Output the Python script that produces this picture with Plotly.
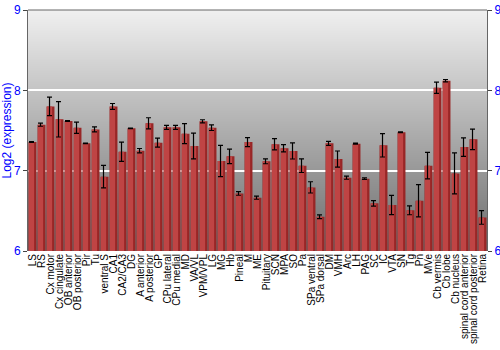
import base64
import struct
import zlib

import plotly.graph_objects as go

categories = ["LS", "RS", "Cx motor", "Cx cingulate", "OB anterior", "OB posterior", "Pir", "Tu",
              "ventral S", "CA1", "CA2/CA3", "DG", "A anterior", "A posterior", "GP", "CPu lateral",
              "CPu medial", "MD", "VA/VL", "VPM/VPL", "LG", "MG", "Hb", "Pineal", "M", "ME",
              "Pituitary", "SCN", "MPA", "SO", "Pa", "SPa ventral", "SPa dorsal", "DM", "VMH", "Arc",
              "LH", "PAG", "SC", "IC", "VTA", "SN", "Tg", "Pn", "MVe", "Cb vermis", "Cb lobe",
              "Cb nucleus", "spinal cord anterior", "spinal cord posterior", "Retina"]

values = [7.356, 7.573, 7.80, 7.639, 7.618, 7.535, 7.34, 7.514,
          6.925, 7.80, 7.236, 7.527, 7.249, 7.589, 7.348, 7.539,
          7.539, 7.461, 7.307, 7.614, 7.535, 7.12, 7.178, 6.717, 7.356, 6.664,
          7.116, 7.328, 7.278, 7.245, 7.062, 6.792, 6.427, 7.34, 7.145, 6.913,
          7.336, 6.90, 6.593, 7.315, 6.572, 7.477, 6.506, 6.626, 7.062, 8.033, 8.12,
          6.966, 7.294, 7.39, 6.418]

errors = [0.005, 0.02, 0.115, 0.22, 0.005, 0.07, 0.004, 0.03,
          0.14, 0.036, 0.12, 0.004, 0.027, 0.07, 0.056, 0.025,
          0.025, 0.125, 0.16, 0.02, 0.035, 0.195, 0.09, 0.023, 0.056, 0.02,
          0.03, 0.07, 0.045, 0.1, 0.085, 0.07, 0.023, 0.025, 0.1, 0.02,
          0.006, 0.01, 0.035, 0.145, 0.12, 0.005, 0.055, 0.2, 0.165, 0.07, 0.015,
          0.255, 0.115, 0.127, 0.085]

y_ticks = [6, 7, 8, 9]
y_range = [6, 9]


def gradient_png(top, bottom, h=241):
    rows = b""
    for i in range(h):
        g = int(round(top + (bottom - top) * i / (h - 1)))
        rows += b"\x00" + bytes([g, g])
    def chunk(tag, data):
        c = struct.pack(">I", len(data)) + tag + data
        return c + struct.pack(">I", zlib.crc32(tag + data) & 0xffffffff)
    png = b"\x89PNG\r\n\x1a\n"
    png += chunk(b"IHDR", struct.pack(">IIBBBBB", 2, h, 8, 0, 0, 0, 0))
    png += chunk(b"IDAT", zlib.compress(rows))
    png += chunk(b"IEND", b"")
    return "data:image/png;base64," + base64.b64encode(png).decode()


fig = go.Figure()

fig.add_trace(go.Bar(
    x=categories, y=values,
    marker=dict(color="#982626", line=dict(width=0)),
    width=0.88,
    showlegend=False, hoverinfo="skip",
))
# lighter highlight on left part of each bar
fig.add_trace(go.Bar(
    x=categories, y=values,
    marker=dict(color="#bf4444", line=dict(width=0)),
    width=0.58, offset=-0.40,
    showlegend=False, hoverinfo="skip",
    error_y=dict(type="data", array=errors, color="black", thickness=1.2, width=2.5),
))
# dummy trace for right axis
fig.add_trace(go.Scatter(x=[categories[0]], y=[6], yaxis="y2", mode="markers",
                         marker=dict(opacity=0), showlegend=False, hoverinfo="skip"))

fig.update_layout(
    width=500, height=350,
    margin=dict(l=28, r=13, t=10, b=99, autoexpand=False),
    paper_bgcolor="white",
    plot_bgcolor="rgba(0,0,0,0)",
    barmode="overlay",
    images=[dict(source=gradient_png(240, 108), xref="paper", yref="paper",
                 x=0, y=1, sizex=1, sizey=1, sizing="stretch",
                 xanchor="left", yanchor="top", layer="below")],
    font=dict(family="Liberation Sans, Arial, sans-serif", size=10, color="black"),
    xaxis=dict(
        tickmode="array", tickvals=categories, ticktext=categories,
        tickangle=-90, tickfont=dict(size=10, color="black"),
        showgrid=False, showline=False, ticks="", automargin=False,
        range=[-0.5, len(categories) - 0.5],
    ),
    yaxis=dict(
        range=y_range, tickvals=y_ticks, ticks="outside", ticklen=4, tickcolor="#444",
        tickfont=dict(size=12, color="blue"), automargin=False,
        title=dict(text="Log2 (expression)", font=dict(size=12, color="blue"), standoff=6),
        showgrid=True, gridcolor="white", gridwidth=1.5,
        showline=True, linecolor="#666", linewidth=1, mirror=False, zeroline=False,
    ),
    yaxis2=dict(
        range=y_range, tickvals=y_ticks, overlaying="y", side="right",
        ticks="outside", ticklen=4, tickcolor="#444", automargin=False,
        tickfont=dict(size=12, color="blue"),
        showgrid=False, showline=True, linecolor="#666", linewidth=1, zeroline=False,
    ),
)
fig.add_shape(type="line", xref="paper", yref="paper", x0=0, x1=1, y0=1, y1=1,
              line=dict(color="#666", width=1))

fig.write_html("out.html")
